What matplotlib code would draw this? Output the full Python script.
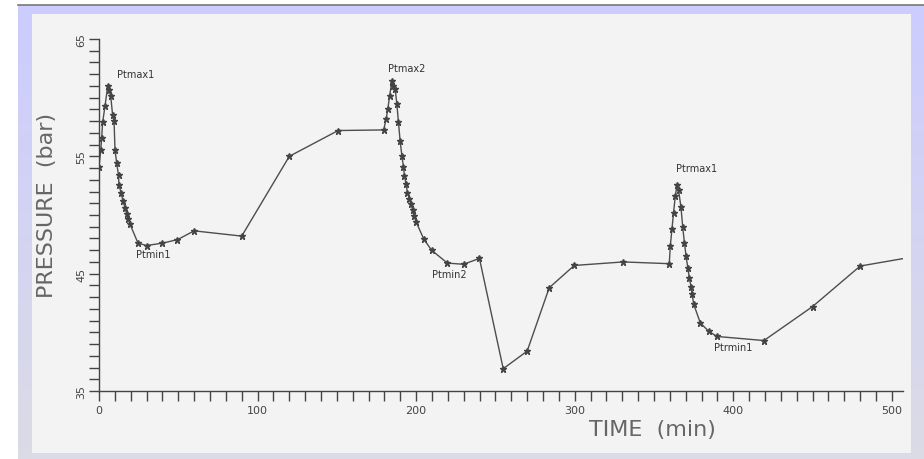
import matplotlib.pyplot as plt
import numpy as np

# pressure record
time_min = [0, 1.1, 1.7, 2.3, 3.8, 5.5, 6.3, 7.4, 8.6, 9.5, 10.1, 11.2, 12.3, 12.6,
            13.9, 15.1, 16.4, 17.5, 18.5, 19.6, 24.6, 30, 40, 49.5, 60, 90,
            120, 150.8, 179.5, 181.1, 182.1, 183.2, 184.7, 185.3, 186.8, 187.8,
            188.8, 189.9, 191, 192, 192.6, 193.7, 194.5, 195.8, 196.7, 197.9,
            198.7, 200, 204.8, 209.7, 219.7, 229.9, 239.9, 254.9, 270, 283.9,
            299.7, 330.6, 359.6, 360.3, 361.3, 362.3, 363.4, 364.5, 365.5, 367,
            368.1, 369.2, 370.2, 371.3, 372.3, 373.3, 374, 375, 379.2, 384.4,
            389.6, 419.3, 450, 480, 512]
pressure_bar = [54.1, 55.5, 56.6, 57.9, 59.3, 61.0, 60.65, 60.1, 58.5, 58.0, 55.5,
                54.4, 53.4, 52.55, 51.9, 51.2, 50.6, 50.1, 49.65, 49.2, 47.6,
                47.4, 47.6, 47.9, 48.65, 48.2, 55.0, 57.2, 57.25, 58.2, 59.0,
                60.1, 61.4, 61.0, 60.7, 59.5, 57.95, 56.3, 55.05, 54.1, 53.35,
                52.6, 51.9, 51.4, 50.9, 50.4, 49.9, 49.4, 47.95, 47.0, 45.9,
                45.8, 46.3, 36.9, 38.4, 43.8, 45.7, 46.0, 45.85, 47.4, 48.8,
                50.2, 51.6, 52.55, 52.1, 50.65, 48.95, 47.6, 46.5, 45.5, 44.6,
                43.9, 43.3, 42.4, 40.8, 40.1, 39.65, 39.3, 42.2, 45.65, 46.4]

point_names = ["Ptmax1", "Ptmin1", "Ptmax2", "Ptmin2", "Ptrmax1", "Ptrmin1"]
name_t = [11.4, 23.3, 182.3, 210, 364, 388]
name_p = [62.0, 46.7, 62.5, 45.0, 54.0, 38.75]

W, H = 924, 460
fig = plt.figure(figsize=(W / 100, H / 100), dpi=100)
fig.patch.set_facecolor("white")

# frame: bluish band fading to grey, light panel inside
bg = fig.add_axes([0, 0, 1, 1])
bg.set_xlim(0, W)
bg.set_ylim(H, 0)
bg.axis("off")
grad = np.linspace(0, 1, 256).reshape(-1, 1)
top_c = np.array([0.80, 0.80, 1.0])
bot_c = np.array([0.86, 0.86, 0.90])
img = top_c[None, None, :] * (1 - grad[:, :, None]) + bot_c[None, None, :] * grad[:, :, None]
bg.imshow(img, extent=(18, W, H, 6), aspect="auto", zorder=0)
bg.plot([18, W], [6, 6], color="#777777", lw=1.2, zorder=1)
bg.add_patch(plt.Rectangle((32, 15), 911 - 32, 454 - 15, facecolor="#f3f3f3",
                           edgecolor="none", zorder=2))

ax = fig.add_axes([99 / W, 1 - 392 / H, (903 - 99) / W, (392 - 40) / H])
ax.patch.set_alpha(0)
ax.plot(time_min, pressure_bar, color="#4d4d4d", lw=1.0, marker="*",
        markersize=4.5, markerfacecolor="#444444", markeredgecolor="#444444")

for name, t, p in zip(point_names, name_t, name_p):
    ax.text(t, p, name, fontsize=7, color="#333333", ha="left", va="center")

ax.set_xlim(0, 507)
ax.set_ylim(35, 65)
for side in ["top", "right"]:
    ax.spines[side].set_visible(False)
for side in ["left", "bottom"]:
    ax.spines[side].set_color("#444444")
    ax.spines[side].set_linewidth(1.0)

ax.set_xticks(np.arange(0, 501, 100))
ax.set_xticks(np.arange(0, 501, 10), minor=True)
ax.set_yticks([35, 45, 55, 65])
ax.set_yticks(np.arange(35, 66, 1), minor=True)
ax.tick_params(which="both", direction="out", length=7, width=1, color="#444444")
ax.tick_params(axis="x", labelsize=8, labelcolor="#444444", pad=3)
ax.tick_params(axis="y", labelsize=8, labelcolor="#444444", pad=2)
for lbl in ax.get_yticklabels():
    lbl.set_rotation(90)
    lbl.set_va("center")

fig.text(652 / W, 1 - 430 / H, "TIME  (min)", fontsize=16, color="#666666",
         ha="center", va="center")
fig.text(47 / W, 1 - 205 / H, "PRESSURE  (bar)", fontsize=16, color="#666666",
         ha="center", va="center", rotation=90)

plt.savefig("out.png", dpi=100)
